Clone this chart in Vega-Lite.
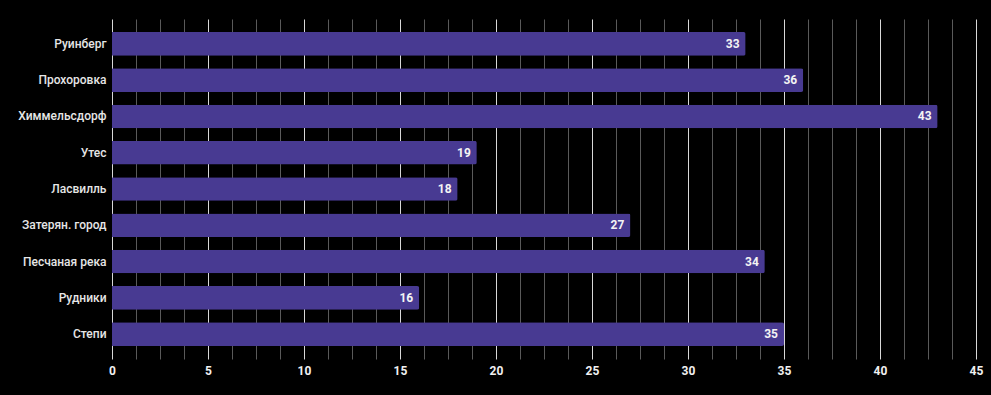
{
  "$schema": "https://vega.github.io/schema/vega-lite/v6.json",
  "width": 864,
  "height": 340,
  "autosize": {"type": "none"},
  "padding": {"left": 112, "top": 19, "right": 15, "bottom": 36},
  "background": "#000000",
  "config": {"view": {"stroke": null}, "font": "Roboto"},
  "data": {"values": [
    {"map": "Руинберг", "value": 33},
    {"map": "Прохоровка", "value": 36},
    {"map": "Химмельсдорф", "value": 43},
    {"map": "Утес", "value": 19},
    {"map": "Ласвилль", "value": 18},
    {"map": "Затерян. город", "value": 27},
    {"map": "Песчаная река", "value": 34},
    {"map": "Рудники", "value": 16},
    {"map": "Степи", "value": 35}
  ]},
  "encoding": {
    "y": {"field": "map", "type": "nominal", "sort": null,
      "scale": {"paddingInner": 0.35, "paddingOuter": 0.36},
      "axis": {"title": null, "domain": false, "ticks": false, "labelPadding": 6,
        "labelColor": "#e6e6e6", "labelFontSize": 12, "labelFontWeight": 500, "labelFont": "Roboto"}},
    "x": {"field": "value", "type": "quantitative",
      "scale": {"domain": [0, 45], "nice": false},
      "axis": {"title": null, "domain": false, "ticks": false,
        "values": [0,1.25,2.5,3.75,5,6.25,7.5,8.75,10,11.25,12.5,13.75,15,16.25,17.5,18.75,20,21.25,22.5,23.75,25,26.25,27.5,28.75,30,31.25,32.5,33.75,35,36.25,37.5,38.75,40,41.25,42.5,43.75,45],
        "labelExpr": "datum.value % 5 === 0 ? datum.label : ''",
        "labelColor": "#f0f0f0", "labelFontSize": 12, "labelFontWeight": "bold", "labelPadding": 6,
        "labelFlush": false, "labelOverlap": false,
        "gridColor": {"condition": {"test": "datum.value % 5 === 0", "value": "#d8d8d8"}, "value": "#5a5a5a"},
        "gridOpacity": 1, "gridWidth": 1}}
  },
  "layer": [
    {"mark": {"type": "bar", "color": "#483a92", "cornerRadiusEnd": 2}},
    {"mark": {"type": "text", "align": "right", "dx": -6, "color": "#f4f4f4", "fontSize": 12, "fontWeight": "bold", "font": "Roboto"},
     "encoding": {"text": {"field": "value", "type": "quantitative"}}}
  ]
}
